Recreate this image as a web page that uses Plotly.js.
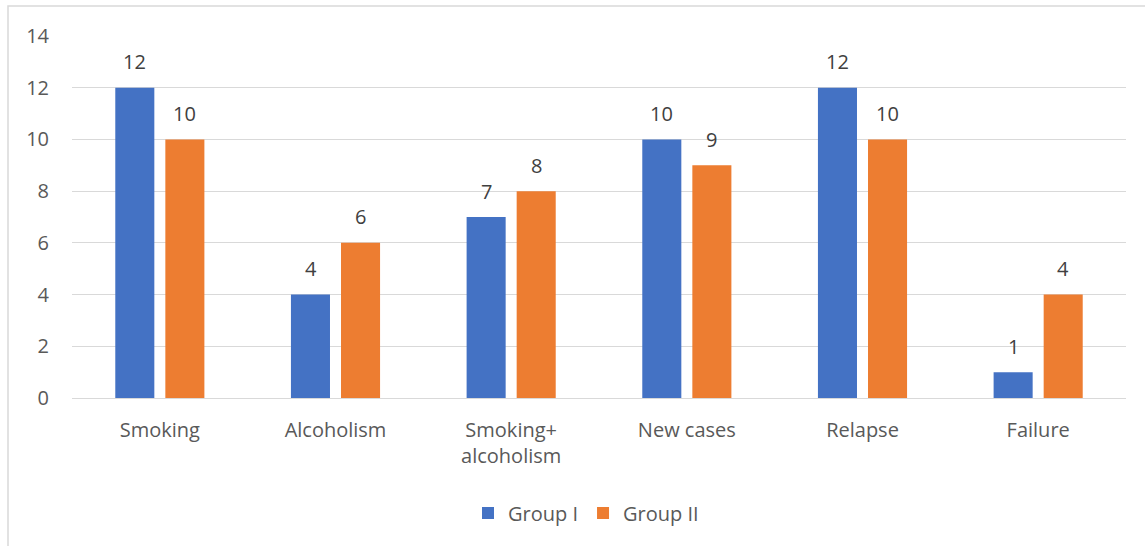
<!DOCTYPE html>
<html>
<head>
<meta charset="utf-8">
<script src="https://cdn.plot.ly/plotly-3.0.1.min.js"></script>
<style>html,body{margin:0;padding:0;background:#fff;}#chart{width:1145px;height:546px;}</style>
</head>
<body>
<div id="chart"></div>
<script>
const categories = ["Smoking", "Alcoholism", "Smoking+<br>alcoholism", "New cases", "Relapse", "Failure"];
const groupI = [12, 4, 7, 10, 12, 1];
const groupII = [10, 6, 8, 9, 10, 4];
const seriesNames = ["Group I", "Group II"];
const yTicks = [0, 2, 4, 6, 8, 10, 12, 14];

const fontFam = "Open Sans, Noto Sans, sans-serif";
const fs = 20;
const mkTrace = (vals, name, color) => ({
  type: "bar", x: categories, y: vals, name: name,
  marker: {color: color}, hoverinfo: "none"
});

const W = 1145, H = 546, ml = 72, mr = 19, mt = 36, mb = 148;
const pw = W - ml - mr, ph = H - mt - mb;
const px2x = p => (p - ml) / pw;
const py2y = p => (H - mb - p) / ph;

const annotations = [];
[groupI, groupII].forEach((vals, si) => {
  vals.forEach((v, i) => {
    annotations.push({x: categories[i], y: v, xref: "x", yref: "y", text: String(v), showarrow: false,
      xshift: si === 0 ? -25 : 25, yshift: 26, yanchor: "middle",
      font: {family: fontFam, size: fs, color: "#404040"}});
  });
});

Plotly.newPlot("chart", [
  mkTrace(groupI, seriesNames[0], "#4472c4"),
  mkTrace(groupII, seriesNames[1], "#ed7d31")
], {
  width: W, height: H,
  margin: {l: ml, r: mr, t: mt, b: mb},
  paper_bgcolor: "#fff", plot_bgcolor: "#fff",
  barmode: "group", bargap: 0.43, bargroupgap: 0.22,
  font: {family: fontFam, size: fs, color: "#595959"},
  xaxis: {showgrid: false, showline: false, ticks: "", tickfont: {size: fs, color: "#595959"}, ticklabelstandoff: 18},
  yaxis: {range: [0, 14], tickvals: yTicks, showgrid: true, gridcolor: "#d9d9d9", gridwidth: 1,
          zeroline: true, zerolinecolor: "#d9d9d9", zerolinewidth: 1, showline: false, ticks: "",
          tickfont: {size: fs, color: "#595959"}, ticklabelstandoff: 22},
  showlegend: true,
  legend: {orientation: "h", x: px2x(586), xanchor: "center", y: py2y(513), yanchor: "middle",
           font: {size: fs, color: "#595959"}, itemwidth: 30, traceorder: "normal"},
  annotations: annotations,
  shapes: [{type: "rect", xref: "paper", yref: "paper", x0: px2x(8), x1: px2x(1160), y0: py2y(560), y1: py2y(6),
            line: {color: "#d9d9d9", width: 1.5}, fillcolor: "rgba(0,0,0,0)", layer: "below"}]
}, {displayModeBar: false, staticPlot: true});
</script>
</body>
</html>
